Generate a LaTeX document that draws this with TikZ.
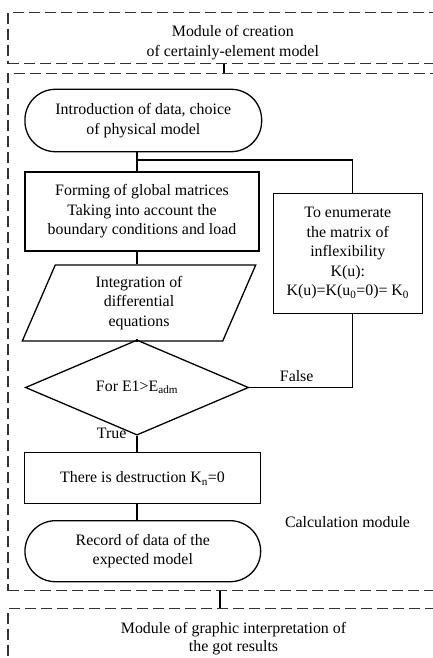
\documentclass[tikz,border=0pt]{standalone}
\usepackage{fontspec}
\setmainfont{Liberation Serif}
\usetikzlibrary{shapes.geometric}
\begin{document}
\begin{tikzpicture}[x=1pt,y=-1pt,
  every node/.style={font=\fontsize{15.9}{19.5}\selectfont, align=center, inner sep=0pt},
  boxshape/.style={draw, line width=1.3pt, rectangle},
  term/.style={draw, line width=1.3pt, rectangle, rounded corners=30.5pt},
  link/.style={line width=1.3pt},
  module/.style={draw=black!80, line width=1.2pt, dash pattern=on 11pt off 5pt, rectangle, anchor=north west, minimum width=462pt},
  lbl/.style={anchor=base},
  ]
\path[use as bounding box, clip] (0,0) rectangle (433,658);

% modules
\node[module, minimum height=51.6pt] (m1) at (7.3,11.7) {};
\node[module, minimum height=517.3pt] (m2) at (7.3,72.7) {};
\node[module, minimum height=112pt] (m3) at (7.3,608) {};
\coordinate (c1) at (224,0);
\coordinate (c2) at (220,0);
\draw[link] (m1.south -| c1) -- (m2.north -| c1);
\draw[link] (m2.south -| c2) -- (m3.north -| c2);

\node[lbl] (m1a) at (232.8,37) {Module of creation};
\node[lbl] (m1b) at (232.8,56.5) {of certainly-element model};
\node[lbl] (m3a) at (233.5,633.5) {Module of graphic interpretation of};
\node[lbl] (m3b) at (233.5,651.5) {the got results};
\node[lbl] (calc) at (347.5,527) {Calculation module};

% flowchart
\node[term, minimum width=236.7pt, minimum height=62.4pt] (t1) at (143.3,120.5)
  {Introduction of data, choice\\of physical model};
\node[boxshape, minimum width=234pt, minimum height=79pt] (form) at (142,211.5)
  {Forming of global matrices\\Taking into account the\\boundary conditions and load};
\node[boxshape, minimum width=149pt, minimum height=120pt] (enum) at (347.8,253.3)
  {To enumerate\\the matrix of\\inflexibility\\K(u):\\K(u)=K(u\textsubscript{0}=0)= K\textsubscript{0}};
\node[draw, line width=1.3pt, trapezium, trapezium left angle=58.4, trapezium right angle=121.6,
  trapezium stretches body, minimum width=233.4pt, minimum height=76pt] (integ) at (139,303)
  {Integration of\\differential\\equations};
\node[draw, line width=1.3pt, diamond, minimum width=223.3pt, minimum height=77.7pt] (dia) at (137,387.5)
  {For E1>E\textsubscript{adm}};
\node[boxshape, minimum width=235.6pt, minimum height=51pt] (destr) at (142.5,478.2)
  {There is destruction K\textsubscript{n}=0};
\node[term, minimum width=235.7pt, minimum height=61pt] (t2) at (142.8,551.2)
  {Record of data of the\\expected model};

\coordinate (spine) at (137,0);
\coordinate (rx) at (352.3,0);
\coordinate (br) at (137,160);

\draw[link] (t1.south -| spine) -- (form.north -| spine);
\draw[link] (br) -| (enum.north -| rx);
\draw[link] (form.south -| spine) -- (integ.north -| spine);
\draw[link] (integ.south -| spine) -- (dia.north);
\draw[link] (dia.east) -| (enum.south -| rx);
\draw[link] (dia.south) -- (destr.north -| spine);
\draw[link] (destr.south -| spine) -- (t2.north -| spine);

\node[lbl] (false) at (296.7,381.5) {False};
\node[lbl] (true) at (111.7,438) {True};
\end{tikzpicture}
\end{document}
